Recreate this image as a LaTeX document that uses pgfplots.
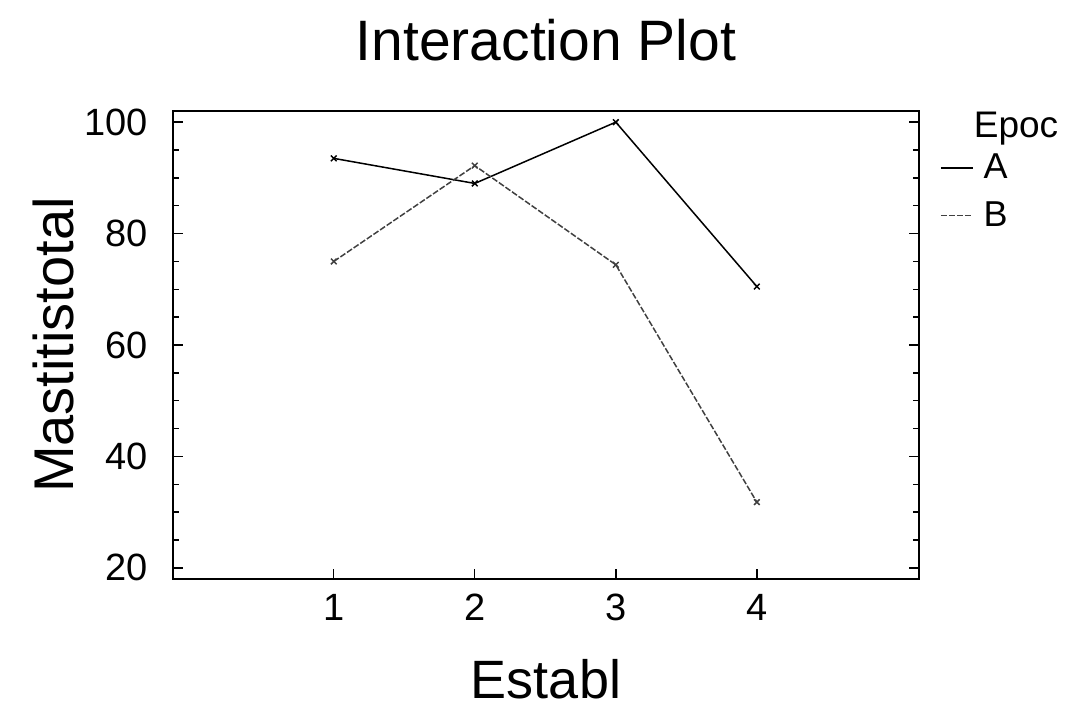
\documentclass[border=0pt]{standalone}
\usepackage{fontspec}
\setmainfont{Liberation Sans}
\usepackage{pgfplots}
\pgfplotsset{compat=1.18}
\begin{document}
\begin{tikzpicture}
\useasboundingbox (-86.5pt,-64.5pt) rectangle (446pt,289.5pt);
\begin{axis}[
  at={(0,0)}, anchor=south west,
  scale only axis, width=373pt, height=234pt,
  clip=false,
  xmin=-0.14, xmax=5.15, ymin=18, ymax=102,
  xtick={1,2,3,4}, ytick={20,40,60,80,100},
  minor y tick num=3,
  tick align=inside,
  major tick length=5pt, minor tick length=3pt,
  xtick pos=bottom,
  /pgf/number format/assume math mode=true,
  tick label style={font=\fontsize{19}{22}\selectfont},
  yticklabel style={xshift=-9pt},
  xticklabel style={yshift=-4pt},
  axis line style={line width=0.9pt},
  tick style={line width=0.7pt, black},
  title={Interaction Plot},
  title style={font=\fontsize{28.5}{32}\selectfont, at={(axis description cs:0.5,1.126)}, anchor=center},
  xlabel={Establ},
  xlabel style={font=\fontsize{27}{30}\selectfont, at={(axis description cs:0.5,-0.214)}, anchor=center},
  ylabel={Mastitistotal},
  ylabel style={font=\fontsize{28}{30}\selectfont, at={(axis description cs:-0.16,0.5)}, anchor=center},
  legend style={at={(1.025,0.922)}, anchor=north west, draw=none, fill=none,
    font=\fontsize{18}{20}\selectfont, row sep=6pt, inner sep=1pt,
    nodes={inner xsep=5pt}},
  legend cell align=left,
  legend image code/.code={\draw[#1] (0pt,0pt) -- (16pt,0pt);},
]
\addplot[black, line width=0.75pt, mark=x, mark size=2pt, mark options={solid}] coordinates {(1,93.5) (2,89) (3,100) (4,70.5)};
\addlegendentry{A}
\addplot[black!75, line width=0.75pt, dash pattern=on 3pt off 1pt, mark=x, mark size=2pt, mark options={solid}] coordinates {(1,75) (2,92.2) (3,74.4) (4,31.8)};
\addlegendentry{B}
\node[font=\fontsize{18.5}{20}\selectfont] at (axis description cs:1.13,0.962) {Epoc};
\end{axis}
\end{tikzpicture}
\end{document}
